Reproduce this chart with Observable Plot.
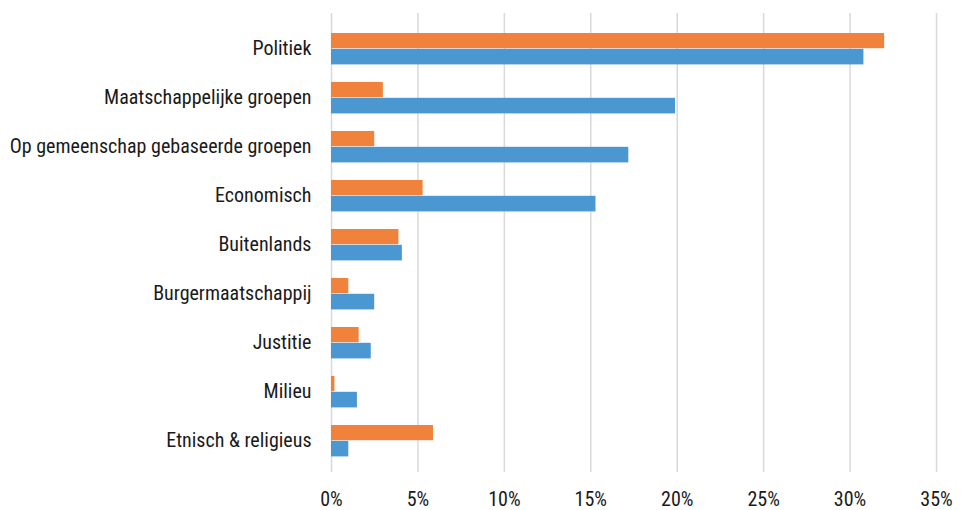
<!DOCTYPE html>
<html>
<head>
<meta charset="utf-8">
<script src="https://cdn.jsdelivr.net/npm/d3@7"></script>
<script src="https://cdn.jsdelivr.net/npm/@observablehq/plot@0.6"></script>
<style>
  html, body { margin: 0; padding: 0; background: #fff; }
  #chart svg { display: block; }
</style>
</head>
<body>
<div id="chart"></div>
<script>
const categories = [
  "Politiek",
  "Maatschappelijke groepen",
  "Op gemeenschap gebaseerde groepen",
  "Economisch",
  "Buitenlands",
  "Burgermaatschappij",
  "Justitie",
  "Milieu",
  "Etnisch & religieus"
];
const orangeValues = [32.0, 3.0, 2.5, 5.3, 3.9, 1.0, 1.6, 0.2, 5.9];
const blueValues = [30.8, 19.9, 17.2, 15.3, 4.1, 2.5, 2.3, 1.5, 1.0];
const xTicks = [0, 5, 10, 15, 20, 25, 30, 35];

const orangeData = categories.map((c, i) => ({category: c, value: orangeValues[i]}));
const blueData = categories.map((c, i) => ({category: c, value: blueValues[i]}));

const font = "'Roboto Condensed', Roboto, sans-serif";

const chart = Plot.plot({
  width: 961,
  height: 510,
  marginLeft: 331,
  marginRight: 25,
  marginTop: 13,
  marginBottom: 38,
  insetTop: 8,
  insetBottom: 5,
  style: {fontFamily: font, fontSize: "20px", color: "#1a1a1a", background: "#fff", overflow: "visible"},
  x: {domain: [0, 35], ticks: xTicks, tickFormat: d => d + "%", tickSize: 0, tickPadding: 19, label: null},
  y: {domain: categories, padding: 0, tickSize: 0, tickPadding: 20, label: null},
  marks: [
    Plot.ruleX(xTicks, {stroke: "#d9d9d9", strokeWidth: 1.5}),
    Plot.barX(orangeData, {x: "value", y: "category", fill: "#F0823C", insetTop: 9, insetBottom: 24.8}),
    Plot.barX(blueData, {x: "value", y: "category", fill: "#4A97D2", insetTop: 24.8, insetBottom: 8.6})
  ]
});
document.getElementById("chart").appendChild(chart);
</script>
</body>
</html>
